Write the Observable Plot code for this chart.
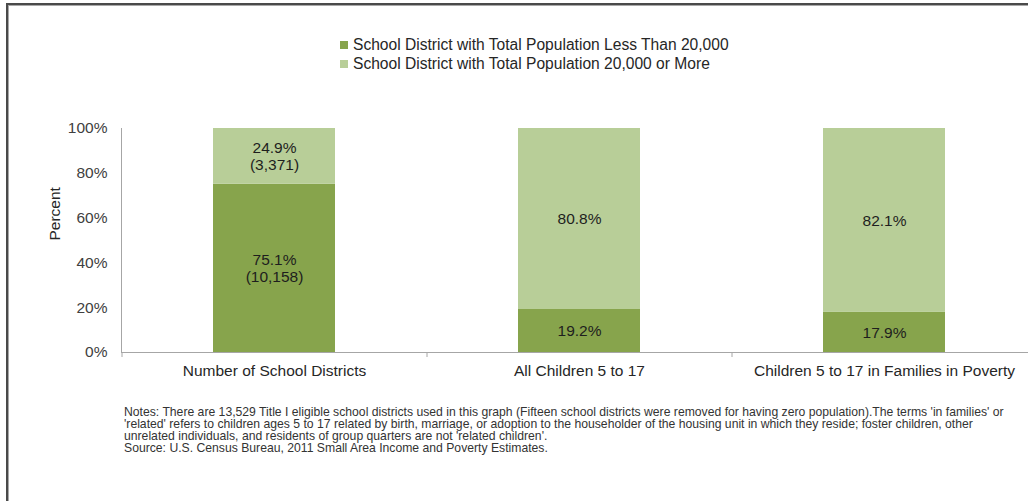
<!DOCTYPE html>
<html>
<head>
<meta charset="utf-8">
<script src="https://cdn.jsdelivr.net/npm/d3@7"></script>
<script src="https://cdn.jsdelivr.net/npm/@observablehq/plot@0.6"></script>
<style>
  html, body { margin: 0; padding: 0; background: #fff; }
  #page { position: relative; width: 1028px; height: 501px; overflow: hidden; font-family: "Liberation Sans", Arial, sans-serif; }
  #frame { position: absolute; left: 6px; top: 3px; width: 1040px; height: 520px; border-top: 2px solid #4a4a4a; border-left: 2px solid #4a4a4a; box-shadow: inset 1px 1px 0 #a8a8a8; }
  #legend { position: absolute; left: 340px; top: 35px; font-family: "Liberation Sans", sans-serif; font-size: 15.6px; color: #262626; }
  .lrow { height: 19px; line-height: 19px; white-space: nowrap; display: flex; align-items: center; }
  .sw { width: 8px; height: 8px; margin-right: 5px; display: inline-block; }
  #chart { position: absolute; left: 0; top: 0; }
  #notes { position: absolute; left: 124px; top: 406px; font-size: 12.2px; line-height: 12px; color: #333; white-space: nowrap; }
</style>
</head>
<body>
<div id="page">
  <div id="frame"></div>
  <div id="chart"></div>
  <div id="legend"></div>
  <div id="notes"></div>
</div>
<script>
const categories = ["Number of School Districts", "All Children 5 to 17", "Children 5 to 17 in Families in Poverty"];
const seriesNames = ["School District with Total Population Less Than 20,000", "School District with Total Population 20,000 or More"];
const lessThan20k = [75.1, 19.2, 17.9];
const moreThan20k = [24.9, 80.8, 82.1];
const lessCounts = ["10,158", null, null];
const moreCounts = ["3,371", null, null];
const yTicks = [0, 20, 40, 60, 80, 100];
const colors = ["#87a44c", "#b8ce98"];
const noteLines = [
  "Notes:  There are 13,529 Title I eligible school districts used in this graph (Fifteen school districts were removed for having zero population).The terms 'in families' or",
  "'related'  refers to children ages 5 to 17 related by birth, marriage, or adoption to the householder of the housing unit in which they reside; foster children, other",
  "unrelated individuals, and residents of group quarters are not 'related children'.",
  "Source:  U.S. Census Bureau, 2011 Small Area Income and Poverty Estimates."
];

const rows = [];
categories.forEach((c, i) => {
  rows.push({cat: c, series: seriesNames[0], value: lessThan20k[i], label: lessThan20k[i].toFixed(1) + "%" + (lessCounts[i] ? "\n(" + lessCounts[i] + ")" : "")});
  rows.push({cat: c, series: seriesNames[1], value: moreThan20k[i], label: moreThan20k[i].toFixed(1) + "%" + (moreCounts[i] ? "\n(" + moreCounts[i] + ")" : "")});
});

const step = (1036 - 121) / categories.length;

const chart = Plot.plot({
  width: 1028,
  height: 390,
  marginTop: 128,
  marginBottom: 38,
  marginLeft: 121,
  marginRight: 0,
  style: {fontFamily: "'Liberation Sans', Arial, sans-serif", overflow: "visible"},
  x: {domain: categories, range: [121, 1036], paddingInner: 0.6, paddingOuter: 0.3},
  y: {domain: [0, 100]},
  color: {domain: seriesNames, range: colors},
  marks: [
    Plot.barY(rows, {x: "cat", y: "value", fill: "series"}),
    Plot.text(rows, Plot.stackY({x: "cat", y: "value", z: "series", text: "label", fontSize: 15.5, fill: "#1e1e1e", lineHeight: 1.05})),
    Plot.frame({anchor: "left", stroke: "#a6a6a6"}),
    Plot.ruleY([0], {stroke: "#a6a6a6"}),
    Plot.axisY({ticks: yTicks, tickFormat: d => d + "%", tickSize: 0, tickPadding: 14, fontSize: 15.5, color: "#404040", label: null}),
    Plot.axisX({tickSize: 0, tickPadding: 12, fontSize: 15.5, color: "#262626", label: null}),
    Plot.axisX({tickSize: 5, tickFormat: () => "", dx: -step / 2, stroke: "#a6a6a6", label: null}),
    Plot.text(["Percent"], {frameAnchor: "left", dx: -66, rotate: -90, fontSize: 15.5, fill: "#262626"})
  ]
});
document.getElementById("chart").appendChild(chart);

const legend = document.getElementById("legend");
seriesNames.forEach((s, i) => {
  const row = document.createElement("div");
  row.className = "lrow";
  const sw = document.createElement("span");
  sw.className = "sw";
  sw.style.background = colors[i];
  row.appendChild(sw);
  row.appendChild(document.createTextNode(s));
  legend.appendChild(row);
});

const notes = document.getElementById("notes");
noteLines.forEach(t => {
  const d = document.createElement("div");
  d.textContent = t;
  notes.appendChild(d);
});
</script>
</body>
</html>
